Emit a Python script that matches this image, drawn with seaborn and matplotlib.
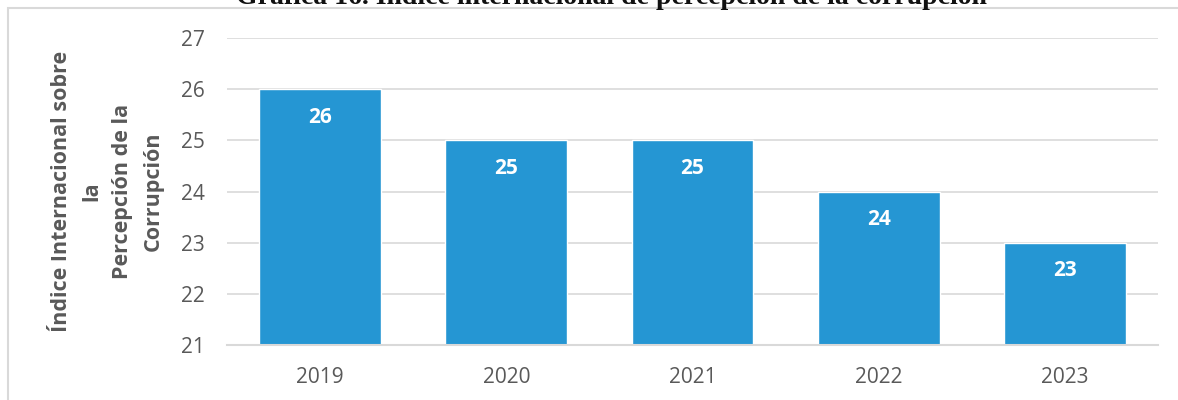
import matplotlib
matplotlib.use("Agg")
import matplotlib.pyplot as plt
import matplotlib.patches as patches
import pandas as pd
import seaborn as sns

# ============ DATA ============
years = ["2019", "2020", "2021", "2022", "2023"]
scores = [26, 25, 25, 24, 23]
y_ticks = [21, 22, 23, 24, 25, 26, 27]

title = "Gráfica 16. Índice internacional de percepción de la corrupción"
ylabel = "Índice Internacional sobre\nla\nPercepción de la\nCorrupción"

BAR_COLOR = "#2596D3"
GRID_COLOR = "#D9D9D9"
TEXT_COLOR = "#595959"

df = pd.DataFrame({"year": years, "score": scores})

sns.set_style("white")
plt.rcParams["font.family"] = ["Open Sans", "DejaVu Sans"]

fig = plt.figure(figsize=(11.78, 4.0), dpi=100)
ax = fig.add_axes([227 / 1178, 1 - 345 / 400, (1158 - 227) / 1178, (345 - 38) / 400])

sns.barplot(data=df, x="year", y="score", color=BAR_COLOR, width=0.655,
            saturation=1, ax=ax, zorder=2)

ax.set_ylim(21, 27)
ax.set_yticks(y_ticks)
ax.set_xlim(-0.5, len(years) - 0.5)
ax.yaxis.grid(True, color=GRID_COLOR, linewidth=1.2, zorder=0)
ax.set_axisbelow(True)

for side in ["top", "right", "left"]:
    ax.spines[side].set_visible(False)
ax.spines["bottom"].set_color(GRID_COLOR)
ax.spines["bottom"].set_linewidth(1.5)

ax.tick_params(axis="both", length=0, labelsize=15, labelcolor=TEXT_COLOR)
ax.tick_params(axis="y", pad=16)
ax.tick_params(axis="x", pad=16)

# value labels inside bars
for i, v in enumerate(scores):
    ax.text(i, v - 0.55, str(v), ha="center", va="center", color="white",
            fontsize=15, fontweight="bold")

ax.set_xlabel("")
ax.set_ylabel("")
fig.text(107 / 1178, 1 - 191 / 400, ylabel, rotation=90, ha="center", va="center",
         multialignment="center", fontsize=15.5, fontweight="bold", color=TEXT_COLOR,
         linespacing=1.6)

# title, clipped at the top like the source
fig.text(611 / 1178, 1 - 4 / 400, title, ha="center", va="baseline",
         fontsize=20, fontweight="bold", color="#111111",
         family=["Liberation Serif", "DejaVu Serif"])

# outer frame
frame = patches.Rectangle((8 / 1178, -0.1), 1.2, 1.1 - 8 / 400, transform=fig.transFigure,
                          fill=False, edgecolor=GRID_COLOR, linewidth=1.5, clip_on=False)
fig.patches.append(frame)

fig.savefig("out.png", dpi=100)
